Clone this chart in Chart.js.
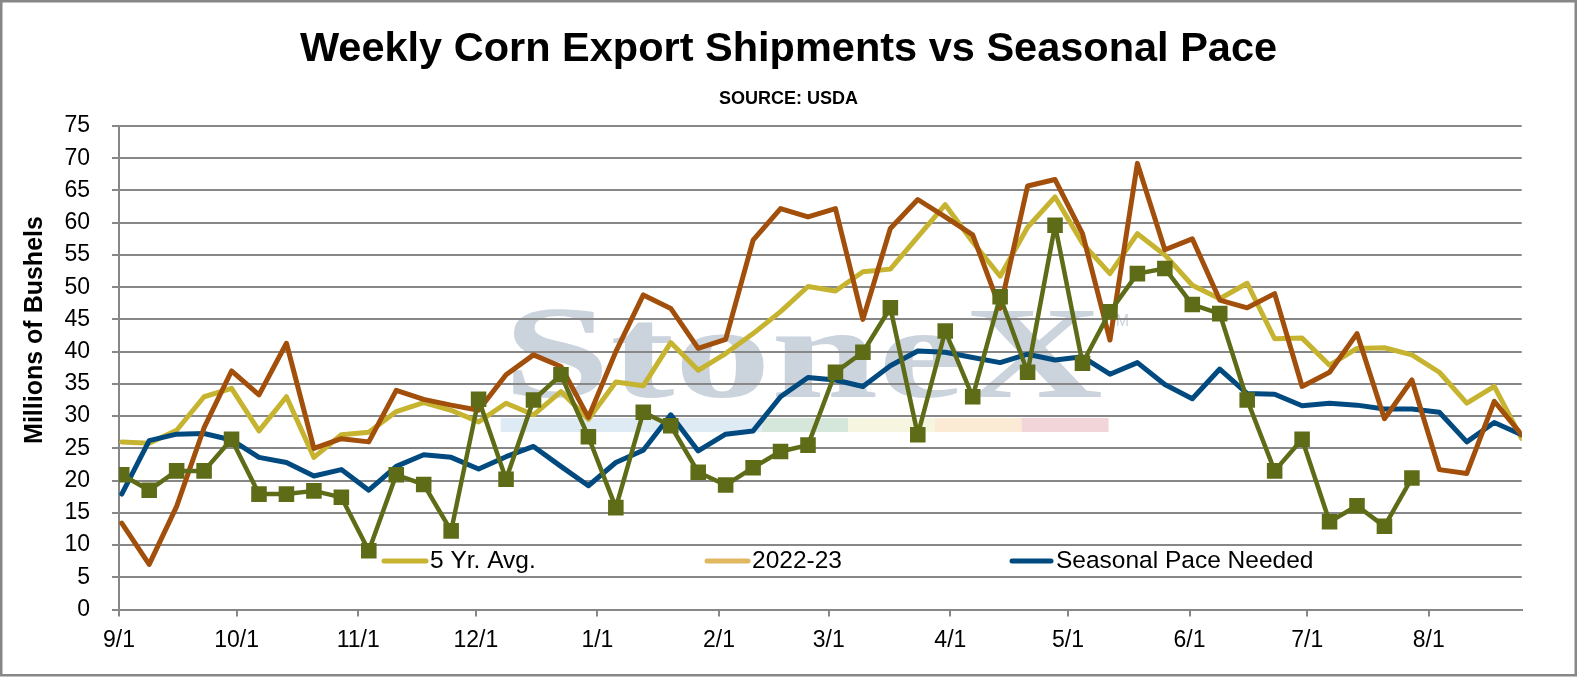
<!DOCTYPE html>
<html>
<head>
<meta charset="utf-8">
<script src="https://cdn.jsdelivr.net/npm/chart.js@4.4.1/dist/chart.umd.min.js"></script>
<style>
html,body{margin:0;padding:0;background:#fff;overflow:hidden;}
#wrap{width:1577px;height:677px;position:relative;}
canvas{display:block;}
</style>
</head>
<body>
<div id="wrap"><canvas id="c" width="1577" height="677"></canvas></div>
<script>
// ---------------- DATA ----------------
const TITLE = 'Weekly Corn Export Shipments vs Seasonal Pace';
const SUBTITLE = 'SOURCE: USDA';
const Y_TITLE = 'Millions of Bushels';

const WEEKS = ['9/1','9/8','9/15','9/22','9/29','10/6','10/13','10/20','10/27','11/3','11/10','11/17','11/24',
  '12/1','12/8','12/15','12/22','12/29','1/5','1/12','1/19','1/26','2/2','2/9','2/16','2/23',
  '3/2','3/9','3/16','3/23','3/30','4/6','4/13','4/20','4/27','5/4','5/11','5/18','5/25',
  '6/1','6/8','6/15','6/22','6/29','7/6','7/13','7/20','7/27','8/3','8/10','8/17','8/24'];

const MONTH_TICKS = ['9/1','10/1','11/1','12/1','1/1','2/1','3/1','4/1','5/1','6/1','7/1','8/1'];

const AVG_5YR = [26.0,25.8,27.8,33.0,34.3,27.7,33.0,23.6,27.1,27.5,30.7,32.1,30.9,
  29.1,32.0,30.2,33.8,29.5,35.3,34.7,41.4,37.1,39.7,42.8,46.2,50.1,
  49.4,52.4,52.8,57.8,62.8,57.0,51.7,59.3,64.0,56.8,52.1,58.3,55.0,
  50.3,48.2,50.6,42.0,42.1,37.9,40.5,40.6,39.5,36.8,32.0,34.6,26.5];

const PRIOR_YEAR = [13.4,7.0,16.0,28.2,37.0,33.3,41.3,25.0,26.5,26.0,34.0,32.6,31.7,
  30.9,36.4,39.5,37.7,29.8,40.0,48.8,46.7,40.5,41.9,57.3,62.2,60.9,
  62.2,45.0,59.1,63.6,60.9,58.1,46.7,65.7,66.7,58.3,41.8,69.2,55.8,
  57.5,48.0,46.8,49.0,34.6,36.8,42.8,29.6,35.6,21.7,21.1,32.3,27.1];

const CURRENT_YEAR = [20.9,18.5,21.5,21.5,26.4,17.9,17.9,18.4,17.4,9.1,20.9,19.4,12.2,
  32.6,20.2,32.5,36.4,26.8,15.8,30.6,28.5,21.3,19.3,22.0,24.5,25.5,
  36.8,39.9,46.8,27.1,43.2,33.0,48.5,36.8,59.6,38.2,46.2,52.1,52.9,
  47.3,45.9,32.5,21.5,26.4,13.6,16.1,12.9,20.4];

const PACE_NEEDED = [17.9,26.2,27.2,27.3,26.3,23.6,22.8,20.7,21.7,18.5,22.2,24.0,23.6,
  21.8,23.7,25.3,22.2,19.2,22.8,24.7,30.2,24.6,27.2,27.7,33.0,36.0,
  35.6,34.6,37.8,40.1,39.9,39.1,38.3,39.6,38.7,39.2,36.5,38.3,34.9,
  32.7,37.3,33.5,33.4,31.6,32.0,31.7,31.1,31.1,30.6,26.0,29.0,27.1];

const LEGEND_NAMES = ['5 Yr. Avg.', '2022-23', 'Seasonal Pace Needed'];

// ---------------- STYLE ----------------
const C_AVG = '#C6B430';
const C_PRIOR = '#A24F0C';
const C_CUR = '#5E6C18';
const C_PACE = '#004A80';
const C_LEG_PRIOR = '#E0B862';
const C_GRID = '#878787';
const FONT = "'Liberation Sans', Arial, Helvetica, sans-serif";

const MONTH_START = {9:0,10:30,11:61,12:91,1:122,2:153,3:181,4:212,5:242,6:273,7:303,8:334};
function dayOf(lbl){ const [m,d] = lbl.split('/').map(Number); return MONTH_START[m] + d - 1; }
const POINT_SHIFT = 0.7;
function pts(arr){ return arr.map((v,i)=>({x: dayOf(WEEKS[i]) + POINT_SHIFT, y: v})); }

Chart.defaults.font.family = FONT;
Chart.defaults.color = '#000';

const decorPlugin = {
  id: 'decor',
  beforeDraw(chart){
    const ctx = chart.ctx;
    ctx.save();
    // watermark text
    ctx.font = "bold 132px 'Liberation Serif', 'Times New Roman', serif";
    ctx.fillStyle = 'rgb(203,211,221)';
    ctx.textBaseline = 'alphabetic';
    const w = ctx.measureText('StoneX').width;
    ctx.translate(503, 397);
    ctx.scale(600 / w, 1);
    ctx.fillText('StoneX', 0, 0);
    ctx.restore();
    ctx.save();
    ctx.font = "16px " + FONT;
    ctx.fillStyle = 'rgb(203,211,221)';
    ctx.fillText('TM', 1106, 326);
    // coloured bar
    const segs = [[500.7,761.7,'#DEEBF5'],[761.7,848.3,'#D5E6DA'],[848.3,935,'#F6F6E0'],[935,1021.7,'#FBEAD4'],[1021.7,1108.6,'#F2D5D9']];
    segs.forEach(s=>{ ctx.fillStyle = s[2]; ctx.fillRect(s[0], 418, s[1]-s[0], 14); });
    ctx.restore();
  },
  afterDraw(chart){
    const ctx = chart.ctx;
    ctx.save();
    // y axis title
    ctx.font = "bold 25px " + FONT;
    ctx.fillStyle = '#000';
    ctx.textAlign = 'center';
    ctx.textBaseline = 'middle';
    ctx.translate(35, 330);
    ctx.rotate(-Math.PI/2);
    ctx.fillText(Y_TITLE, 0, 0);
    ctx.restore();
    // legend
    ctx.save();
    const items = [
      {t: LEGEND_NAMES[0], c: C_AVG, x0: 384, x1: 426, tx: 430},
      {t: LEGEND_NAMES[1], c: C_LEG_PRIOR, x0: 707, x1: 748, tx: 752},
      {t: LEGEND_NAMES[2], c: C_PACE, x0: 1012, x1: 1051, tx: 1056}
    ];
    ctx.font = "24.5px " + FONT;
    ctx.textBaseline = 'middle';
    ctx.textAlign = 'left';
    const ly = 561;
    items.forEach(it=>{
      ctx.strokeStyle = it.c; ctx.lineWidth = 5; ctx.lineCap = 'round';
      ctx.beginPath(); ctx.moveTo(it.x0, ly); ctx.lineTo(it.x1, ly); ctx.stroke();
      ctx.fillStyle = '#000';
      ctx.fillText(it.t, it.tx, ly);
    });
    ctx.restore();
    // outer border
    ctx.save();
    ctx.strokeStyle = C_GRID; ctx.lineWidth = 2.5;
    ctx.strokeRect(1.25, 1.25, 1574.5, 674);
    ctx.restore();
  }
};

const lineBase = {tension: 0, pointRadius: 0, borderWidth: 5, borderJoinStyle: 'round', borderCapStyle: 'round', fill: false};

new Chart(document.getElementById('c'), {
  type: 'line',
  data: {
    datasets: [
      Object.assign({label: '5 Yr. Avg.', data: pts(AVG_5YR), borderColor: C_AVG, order: 4}, lineBase),
      Object.assign({label: 'Seasonal Pace Needed', data: pts(PACE_NEEDED), borderColor: C_PACE, order: 3}, lineBase),
      Object.assign({label: '2022-23', data: pts(PRIOR_YEAR), borderColor: C_PRIOR, order: 2}, lineBase),
      Object.assign({}, lineBase, {label: '2023-24', data: pts(CURRENT_YEAR), borderColor: C_CUR, borderWidth: 4.5,
        pointStyle: 'rect', pointRadius: 11, pointBackgroundColor: C_CUR, pointBorderColor: C_CUR, pointBorderWidth: 0, order: 1})
    ]
  },
  options: {
    responsive: false,
    animation: false,
    events: [],
    layout: {padding: {left: 0, right: 0, top: 0, bottom: 0}},
    plugins: {
      legend: {display: false},
      tooltip: {enabled: false},
      title: {display: true, text: TITLE, color: '#000', font: {size: 41.5, weight: 'bold'}, padding: {top: 25.1, bottom: 13.3}},
      subtitle: {display: true, text: SUBTITLE, color: '#000', font: {size: 18, weight: 'bold'}, padding: {top: 0, bottom: 16.2}}
    },
    scales: {
      x: {
        type: 'linear', min: 0, max: 357.7,
        afterBuildTicks(s){ s.ticks = MONTH_TICKS.map(t=>({value: dayOf(t)})); },
        afterFit(s){ s.height = 67.5; },
        ticks: {callback: (v, i) => MONTH_TICKS[i], autoSkip: false, maxRotation: 0, font: {size: 23}, color: '#000', padding: 10},
        grid: {drawOnChartArea: false, drawTicks: true, tickLength: 7, color: C_GRID, lineWidth: 2},
        border: {display: true, color: C_GRID, width: 2}
      },
      y: {
        min: 0, max: 75,
        afterFit(s){ s.width = 119; },
        ticks: {stepSize: 5, font: {size: 23}, color: '#000', padding: 22},
        grid: {color: C_GRID, lineWidth: 2, tickLength: 7},
        border: {display: true, color: C_GRID, width: 2}
      },
      yRight: {
        position: 'right', min: 0, max: 75,
        afterFit(s){ s.width = 55.3; },
        ticks: {display: false},
        grid: {display: false, drawTicks: false},
        border: {display: false}
      }
    }
  },
  plugins: [decorPlugin]
});
</script>
</body>
</html>
